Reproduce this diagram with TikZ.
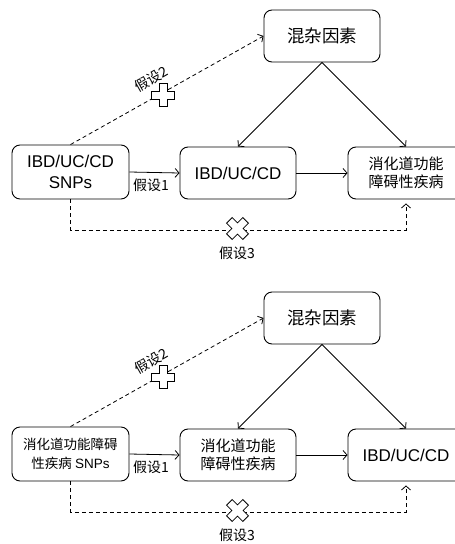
\documentclass[tikz,border=0pt]{standalone}
\usepackage{fontspec}
\setmainfont{Liberation Sans}
\newfontfamily\cjk{Noto Sans CJK SC}
\usetikzlibrary{arrows.meta}
\tikzset{
  box/.style={draw, line width=0.9pt, rounded corners=8pt, minimum width=116pt, minimum height=52pt, align=center, inner sep=2pt},
  link/.style={line width=0.8pt, -{Straight Barb[length=4pt,width=9pt]}},
  dlink/.style={link, dash pattern=on 4pt off 3pt},
  lbl/.style={font=\cjk\fontsize{14}{16}\selectfont, inner sep=0pt},
  plusshape/.pic={
    \draw[line width=0.8pt, fill=white] (-4,-11.5) -- (4,-11.5) -- (4,-4) -- (11.5,-4) -- (11.5,4) -- (4,4) -- (4,11.5) -- (-4,11.5) -- (-4,4) -- (-11.5,4) -- (-11.5,-4) -- (-4,-4) -- cycle;
  }
}
\begin{document}
\begin{tikzpicture}[x=1pt, y=-1pt]
\useasboundingbox (0,0) rectangle (455,544);
\clip (0,0) rectangle (455,544);
% ---------- top diagram ----------
\node[box, font=\cjk\fontsize{17.5}{20}\selectfont] (conf1) at (322,36) {混杂因素};
\node[box, minimum width=117pt, minimum height=54pt, font=\fontsize{17}{21.5}\selectfont] (snp1) at (70.5,172) {IBD/UC/CD\\SNPs};
\node[box, font=\fontsize{17}{20}\selectfont] (mid1) at (238,173) {IBD/UC/CD};
\node[box, font=\cjk\fontsize{15}{18}\selectfont] (out1) at (406,173) {消化道功能\\障碍性疾病};
\coordinate (b1) at (237,230);
\draw[link] (conf1.south) -- (mid1.north);
\draw[link] (conf1.south) -- (out1.north);
\draw[link] (snp1.east) -- (mid1.west);
\draw[link] (mid1.east) -- (out1.west);
\draw[dlink] (snp1.north) -- (conf1.west);
\draw[dlink] (snp1.south) |- (b1) -| ([yshift=-4pt]out1.south);
\node[lbl] (h1a) at (151,185) {假设1};
\node[lbl, rotate=29.4] (h2a) at (151,79) {假设2};
\node[lbl] (h3a) at (237,253) {假设3};
\pic at (163,95) {plusshape};
\pic[rotate=45] at (237.5,228.5) {plusshape};
% ---------- bottom diagram ----------
\node[box, font=\cjk\fontsize{17.5}{20}\selectfont] (conf2) at (322,318) {混杂因素};
\node[box, minimum width=117pt, minimum height=54pt, font=\cjk\fontsize{13.5}{19}\selectfont] (snp2) at (70.5,454) {消化道功能障碍\\性疾病 {\fontspec{Liberation Sans}SNPs}};
\node[box, font=\cjk\fontsize{15}{18}\selectfont] (mid2) at (238,455) {消化道功能\\障碍性疾病};
\node[box, font=\fontsize{17}{20}\selectfont] (out2) at (406,455) {IBD/UC/CD};
\coordinate (b2) at (237,512);
\draw[link] (conf2.south) -- (mid2.north);
\draw[link] (conf2.south) -- (out2.north);
\draw[link] (snp2.east) -- (mid2.west);
\draw[link] (mid2.east) -- (out2.west);
\draw[dlink] (snp2.north) -- (conf2.west);
\draw[dlink] (snp2.south) |- (b2) -| ([yshift=-4pt]out2.south);
\node[lbl] (h1b) at (151,467) {假设1};
\node[lbl, rotate=29.4] (h2b) at (151,361) {假设2};
\node[lbl] (h3b) at (237,535) {假设3};
\pic at (163,377) {plusshape};
\pic[rotate=45] at (237.5,510.5) {plusshape};
\end{tikzpicture}
\end{document}
